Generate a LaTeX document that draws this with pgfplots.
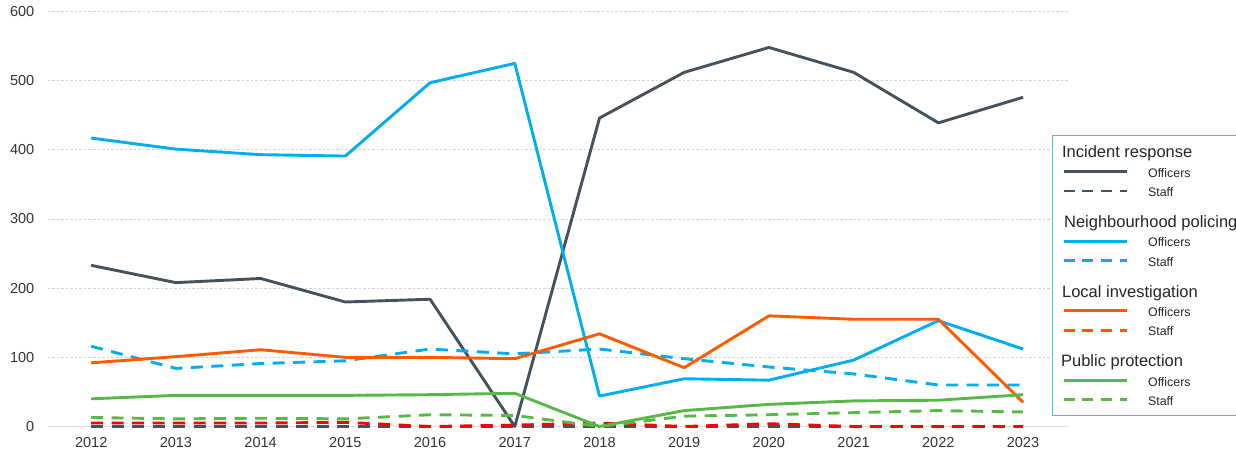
\documentclass[border=0pt]{standalone}
\usepackage{fontspec}
\setmainfont{Liberation Sans}
\usepackage{pgfplots}
\pgfplotsset{compat=1.18}
\definecolor{irc}{HTML}{44525E}
\definecolor{npc}{HTML}{00AEEF}
\definecolor{lic}{HTML}{FF5A00}
\definecolor{lsr}{HTML}{FF0000}
\definecolor{ppc}{HTML}{58B847}
\definecolor{legbord}{HTML}{3DBDEB}
\definecolor{tickc}{HTML}{333333}
\newcommand{\hdr}[3]{\hspace*{-#1pt}\fontsize{16.5}{18}\selectfont\rule[-4.15pt]{0pt}{#2pt}#3}
\newcommand{\itm}[1]{\rule[-3.95pt]{0pt}{19.3pt}#1}
\pgfplotsset{ofc/.style={line width=2.9pt, line join=round}, stf/.style={line width=2.9pt, dash pattern=on 12pt off 8.5pt}, lstf/.style={line width=2.9pt, dash pattern=on 11pt off 7.7pt}}
\begin{document}
\begin{tikzpicture}
\begin{axis}[
 at={(0,0)}, anchor=south west,
 scale only axis, width=1020pt, height=415pt,
 xmin=2011.49, xmax=2023.53, ymin=0, ymax=600,
 xtick={2012,...,2023}, ytick={100,200,...,600},
 extra y ticks={0},
 extra y tick style={major grid style={solid, draw=gray!25, line width=1.3pt}},
 /pgf/number format/1000 sep={},
 /pgf/number format/assume math mode=true,
 tick label style={font=\fontsize{14.5}{16}\selectfont, text=tickc},
 xticklabel style={inner sep=0pt, anchor=north, yshift=-11pt},
 yticklabel style={inner sep=0pt, anchor=east, xshift=-13.5pt},
 axis line style={draw=none},
 major tick length=0pt,
 ymajorgrids,
 major grid style={dash pattern=on 2.5pt off 2pt, draw=gray!35, line width=0.8pt},
 clip=false,
 legend cell align=left,
 legend style={at={(axis description cs:0.98431,0.70241)}, anchor=north west, draw=legbord, fill=white, inner xsep=10pt, inner ysep=0pt, column sep=20pt, row sep=0pt, nodes={inner sep=0pt, text depth=, text height=, text=black!85}, font=\fontsize{12.4}{14}\selectfont},
 legend image code/.code={\draw[#1] (0pt,0pt) -- (63pt,0pt);},
]
\addlegendimage{empty legend}\addlegendentry{\hdr{86}{26.85}{Incident response}}
\addlegendimage{irc, ofc}\addlegendentry{\itm{Officers}}
\addlegendimage{irc, lstf}\addlegendentry{\itm{Staff}}
\addlegendimage{empty legend}\addlegendentry{\hdr{84}{31}{Neighbourhood policing}}
\addlegendimage{npc, ofc}\addlegendentry{\itm{Officers}}
\addlegendimage{npc, lstf}\addlegendentry{\itm{Staff}}
\addlegendimage{empty legend}\addlegendentry{\hdr{86}{31}{Local investigation}}
\addlegendimage{lic, ofc}\addlegendentry{\itm{Officers}}
\addlegendimage{lic, lstf}\addlegendentry{\itm{Staff}}
\addlegendimage{empty legend}\addlegendentry{\hdr{87}{31}{Public protection}}
\addlegendimage{ppc, ofc}\addlegendentry{\itm{Officers}}
\addlegendimage{ppc, lstf}\addlegendentry{\itm{Staff}}
\addlegendimage{empty legend}\addlegendentry{\rule{0pt}{6pt}}

% Incident response
\addplot[irc, ofc, forget plot] coordinates {(2012,233)(2013,208)(2014,214)(2015,180)(2016,184)(2017,0)(2018,446)(2019,512)(2020,548)(2021,512)(2022,439)(2023,476)};
\addplot[irc, stf, forget plot] coordinates {(2012,0)(2013,0)(2014,0)(2015,0)(2016,0)(2017,0)(2018,0)(2019,0)(2020,0)(2021,0)(2022,0)(2023,0)};
% Neighbourhood policing
\addplot[npc, ofc, forget plot] coordinates {(2012,417)(2013,401)(2014,393)(2015,391)(2016,497)(2017,525)(2018,44)(2019,69)(2020,67)(2021,96)(2022,153)(2023,112)};
\addplot[npc, stf, forget plot] coordinates {(2012,116)(2013,84)(2014,91)(2015,95)(2016,112)(2017,105)(2018,112)(2019,98)(2020,86)(2021,76)(2022,60)(2023,60)};
% Local investigation
\addplot[lic, ofc, forget plot] coordinates {(2012,92)(2013,101)(2014,111)(2015,100)(2016,100)(2017,98)(2018,134)(2019,85)(2020,160)(2021,155)(2022,155)(2023,35)};
\addplot[lsr, stf, forget plot] coordinates {(2012,5)(2013,5)(2014,5)(2015,6)(2016,0)(2017,2)(2018,5)(2019,0)(2020,4)(2021,0)(2022,0)(2023,0)};
% Public protection
\addplot[ppc, ofc, forget plot] coordinates {(2012,40)(2013,45)(2014,45)(2015,45)(2016,46)(2017,48)(2018,0)(2019,23)(2020,32)(2021,37)(2022,38)(2023,46)};
\addplot[ppc, stf, forget plot] coordinates {(2012,13)(2013,11)(2014,12)(2015,11)(2016,17)(2017,16)(2018,0)(2019,15)(2020,17)(2021,20)(2022,23)(2023,21)};
\end{axis}
\pgfresetboundingbox
\useasboundingbox (-48pt,-27.5pt) rectangle (1188pt,426.5pt);
\end{tikzpicture}
\end{document}
